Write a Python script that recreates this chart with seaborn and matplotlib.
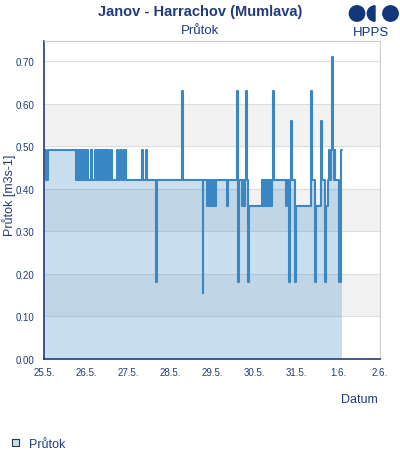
import matplotlib
matplotlib.use('Agg')
import numpy as np
import pandas as pd
import matplotlib.pyplot as plt
import seaborn as sns
from matplotlib.patches import Circle, Wedge, Patch

# hodiny od 25.5. 00:00 a průtok [m3s-1] (schodovitý průběh)
hours = [
    0.0, 1.4, 2.0,
    18.3, 18.9, 19.5, 20.1, 20.7, 21.3, 21.9, 22.5, 23.1, 23.7, 24.2, 24.6, 24.9,
    26.6, 27.1, 27.5, 27.7,
    29.4, 30.0, 30.6, 31.2, 31.8, 32.4, 32.9, 33.9, 34.4, 35.0, 35.6, 36.2, 36.8, 37.3,
    38.4, 39.0, 41.6, 42.4, 43.6, 44.3, 45.9, 46.9,
    56.0, 56.6, 58.3, 58.9,
    64.0, 64.5, 78.9, 79.4, 90.6, 91.1,
    93.1, 93.7, 94.3, 94.9, 95.5, 96.1, 96.7, 97.3, 97.8, 98.3,
    104.6, 105.4,
    110.1, 110.6, 111.0, 111.5,
    113.1, 113.7, 114.3, 114.9, 115.3, 115.9, 116.4, 116.9,
    124.4, 125.0, 125.6, 126.2, 126.8, 127.4, 128.0, 128.6, 129.2, 129.8, 130.3,
    131.0, 131.5,
    138.0, 138.8, 139.8, 140.4, 141.4, 141.9,
    143.4, 144.0, 152.6, 153.1, 154.9, 155.4, 158.1, 158.6, 160.6, 161.1,
    162.5, 163.0, 163.5, 164.0, 164.5, 165.0, 165.5, 166.0, 166.5,
    168.6, 169.9, 170.3,
]
flow = [
    0.49, 0.42, 0.49,
    0.42, 0.49, 0.42, 0.49, 0.42, 0.49, 0.42, 0.49, 0.42, 0.49, 0.42, 0.49, 0.42,
    0.49, 0.42, 0.49, 0.42,
    0.49, 0.42, 0.49, 0.42, 0.49, 0.42, 0.49, 0.42, 0.49, 0.42, 0.49, 0.42, 0.49, 0.42,
    0.49, 0.42, 0.49, 0.42, 0.49, 0.42, 0.49, 0.42,
    0.49, 0.42, 0.49, 0.42,
    0.18, 0.42, 0.63, 0.42, 0.155, 0.42,
    0.36, 0.42, 0.36, 0.42, 0.36, 0.42, 0.36, 0.42, 0.36, 0.42,
    0.36, 0.42,
    0.63, 0.49, 0.18, 0.42,
    0.36, 0.42, 0.36, 0.42, 0.63, 0.42, 0.18, 0.36,
    0.42, 0.36, 0.42, 0.36, 0.42, 0.36, 0.42, 0.36, 0.42, 0.36, 0.42,
    0.63, 0.42,
    0.36, 0.42, 0.18, 0.42, 0.56, 0.42,
    0.18, 0.36, 0.63, 0.42, 0.18, 0.36, 0.56, 0.42, 0.18, 0.36,
    0.42, 0.49, 0.42, 0.49, 0.71, 0.49, 0.42, 0.49, 0.42,
    0.18, 0.49, 0.49,
]
day_labels = ['25.5.', '26.5.', '27.5.', '28.5.', '29.5.', '30.5.', '31.5.', '1.6.', '2.6.']
y_ticks = [0.0, 0.1, 0.2, 0.3, 0.4, 0.5, 0.6, 0.7]

NAVY = '#213b7c'
LINE = '#3a87c4'
FONT = ['Liberation Sans', 'DejaVu Sans']

sns.set_theme(style='white')
plt.rcParams['font.family'] = FONT

start = pd.Timestamp('2024-05-25')
df = pd.DataFrame({'cas': start + pd.to_timedelta(hours, unit='h'), 'prutok': flow})
day_ticks = [start + pd.Timedelta(days=i) for i in range(len(day_labels))]

fig = plt.figure(figsize=(4, 4.6), dpi=100)
ax = fig.add_axes([44 / 400, 1 - 360 / 460, 336 / 400, 318 / 460])

# střídavé šedé pásy a mřížka
for lo in (0.1, 0.3, 0.5):
    ax.axhspan(lo, lo + 0.1, color='#f2f2f2', zorder=0, lw=0)
ax.yaxis.grid(True, color='#dddddd', lw=0.8, zorder=0.5)
ax.set_axisbelow(True)

ax.fill_between(df['cas'], df['prutok'], step='post', color=LINE, alpha=0.27, lw=0, zorder=1)
sns.lineplot(data=df, x='cas', y='prutok', ax=ax, color=LINE, lw=1.5,
             drawstyle='steps-post', estimator=None, zorder=2)

ax.set_xlim(day_ticks[0], day_ticks[-1])
ax.set_ylim(0, 0.747)
ax.set_xticks(day_ticks)
ax.set_xticklabels(day_labels)
ax.set_yticks(y_ticks)
ax.set_yticklabels([f'{v:.2f}' for v in y_ticks])
ax.tick_params(axis='both', length=0, labelsize=7, labelcolor=NAVY)
ax.tick_params(axis='x', pad=6)
ax.tick_params(axis='y', pad=7)
ax.set_xlabel('')
ax.set_ylabel('')

for side in ('left', 'bottom'):
    ax.spines[side].set_color(NAVY)
    ax.spines[side].set_linewidth(1.2)
for side in ('top', 'right'):
    ax.spines[side].set_color('#cccccc')
    ax.spines[side].set_linewidth(0.8)

fig.text(0.5, 1 - 16 / 460, 'Janov - Harrachov (Mumlava)', ha='center', va='baseline',
         fontsize=10.5, weight='bold', color=NAVY)
fig.text(0.5, 1 - 34 / 460, 'Průtok', ha='center', va='baseline', fontsize=9.5, color=NAVY)
fig.text(9 / 400, 1 - 195 / 460, 'Průtok [m3s-1]', rotation=90, ha='center', va='center',
         fontsize=9, color=NAVY)
fig.text(378 / 400, 1 - 400 / 460, 'Datum', ha='right', va='center', fontsize=9, color=NAVY)

# logo HPPS
LOGO = '#12367a'
cy = 4.6 - 0.145
fig.add_artist(Circle((3.57, cy), 0.077, color=LOGO, transform=fig.dpi_scale_trans))
fig.add_artist(Wedge((3.75, cy), 0.077, 90, 270, color=LOGO, transform=fig.dpi_scale_trans))
fig.add_artist(Circle((3.905, cy), 0.077, color=LOGO, transform=fig.dpi_scale_trans))
fig.text(371 / 400, 1 - 36 / 460, 'HPPS', ha='center', va='baseline', fontsize=9.5, color=LOGO)

handle = Patch(facecolor='#c6ddf1', edgecolor='#333333', lw=0.8)
fig.legend([handle], ['Průtok'], loc='center left', bbox_to_anchor=(12 / 400, 1 - 445 / 460),
           frameon=False, borderpad=0, borderaxespad=0,
           handlelength=0.55, handleheight=0.55, handletextpad=0.8,
           fontsize=9, labelcolor=NAVY)

fig.savefig('out.png', dpi=100)
